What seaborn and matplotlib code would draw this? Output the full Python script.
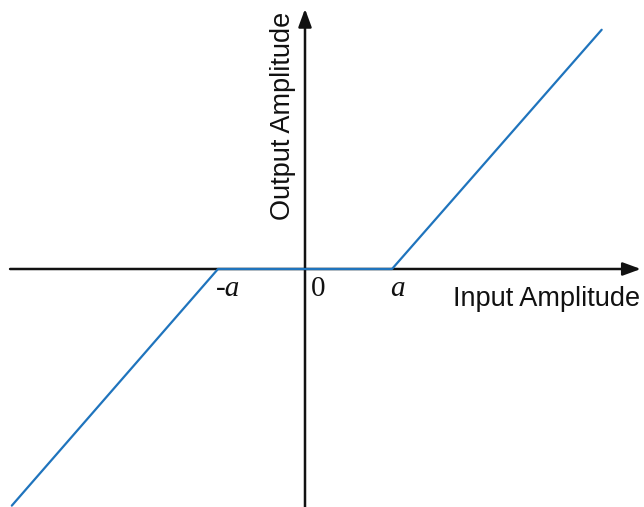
import numpy as np
import pandas as pd
import matplotlib
matplotlib.use("Agg")
import matplotlib.pyplot as plt
import seaborn as sns

# dead-zone characteristic, a = 1 (data units)
input_points = [-3.37, -1.0, 1.0, 3.41]
output_points = [-2.72, 0.0, 0.0, 2.75]
tick_labels = ["-a", "0", "a"]
tick_pos = [-0.88, 0.15, 1.06]

sns.set_theme(style="white")
plt.rcParams["font.family"] = ["Liberation Sans", "DejaVu Sans"]
plt.rcParams["text.color"] = "#111111"

df = pd.DataFrame({"input": input_points, "output": output_points})

fig = plt.figure(figsize=(6.44, 5.07), dpi=100)
ax = fig.add_axes([0, 0, 1, 1])
ax.set_xlim(-305 / 87, (644 - 305) / 87)
ax.set_ylim(-(507 - 269) / 87, 269 / 87)
ax.set_axis_off()

sns.lineplot(data=df, x="input", y="output", sort=False, color="#1f74bd",
             linewidth=1.6, ax=ax, zorder=3)

# axes with arrows
arrow = dict(arrowstyle="-|>,head_length=0.9,head_width=0.33", lw=1.8,
             color="#111111", shrinkA=0, shrinkB=0)
ax.annotate("", xy=(3.86, 0), xytext=(-3.39, 0), arrowprops=arrow, zorder=2)
ax.annotate("", xy=(0, 2.99), xytext=(0, -2.75), arrowprops=arrow, zorder=2)

for lab, xp in zip(tick_labels, tick_pos):
    style = "normal" if lab == "0" else "italic"
    ax.text(xp, -0.23, lab, ha="center", va="center", fontsize=21,
            family="Liberation Serif", fontstyle=style)

ax.text(2.78, -0.35, "Input Amplitude", ha="center", va="center", fontsize=19.5)
ax.text(-0.25, 1.76, "Output Amplitude", ha="center", va="center",
        fontsize=19.5, rotation=90)

fig.savefig("out.png", dpi=100)
